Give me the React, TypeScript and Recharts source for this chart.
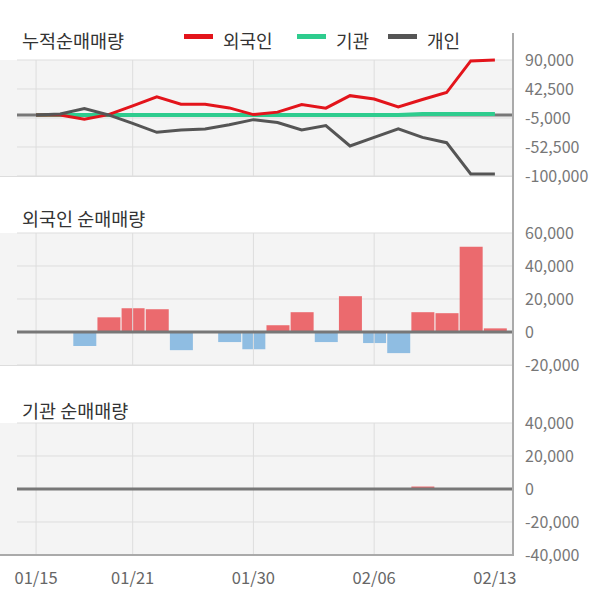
import { Bar, Cell, ComposedChart, CartesianGrid, Line, ReferenceLine, XAxis, YAxis } from "recharts";

const dates = ["01/15", "01/16", "01/17", "01/20", "01/21", "01/22", "01/23", "01/28", "01/29", "01/30",
  "01/31", "02/03", "02/04", "02/05", "02/06", "02/07", "02/10", "02/11", "02/12", "02/13"];

// cumulative net buy (shares)
const foreignCum = [0, 0, -7200, 500, 14800, 29500, 17600, 17600, 11500, 600,
  4600, 17200, 11100, 31600, 26100, 13300, 25300, 36700, 88500, 90000];
const instCum = [0, 0, 0, 0, 0, 0, 0, 0, 0, 0, 0, 0, 0, 0, 0, 0, 1500, 1500, 1500, 1500];
const indivCum = [0, 1600, 10300, 0, -13700, -28400, -24600, -23000, -15900, -7700,
  -12500, -24600, -17500, -50800, -36700, -22900, -36700, -45400, -96600, -96600];

// daily net buy
const foreignNet = [0, 0, -8500, 8900, 14400, 13800, -11000, 0, -6100, -10400,
  4100, 12000, -6100, 21700, -6700, -12800, 12000, 11400, 51600, 2200];
const instNet = [0, 0, 0, 0, 0, 0, 0, 0, 0, 0, 0, 0, 0, 0, 0, 0, 1500, 0, 0, 0];

const cumTicks = [90000, 42500, -5000, -52500, -100000];
const foreignTicks = [60000, 40000, 20000, 0, -20000];
const instTicks = [40000, 20000, 0, -20000, -40000];
const labelIdx = [0, 4, 9, 14, 19];
const gridIdx = [0, 4, 9, 14];

const cumData = dates.map((d, i) => ({ idx: i, date: d, foreign: foreignCum[i], inst: instCum[i], indiv: indivCum[i] }));
const foreignData = dates.map((d, i) => ({ idx: i, date: d, value: foreignNet[i] }));
const instData = dates.map((d, i) => ({ idx: i, date: d, value: instNet[i] }));

const FONT = "'Noto Sans CJK KR', 'Noto Sans', sans-serif";
const X_DOMAIN: [number, number] = [-0.79, 19.75];
const RED = "#e3141b";
const GREEN = "#2ecc8e";
const DARK = "#555555";
const BAR_UP = "#eb6a6e";
const BAR_DOWN = "#8fbde2";
const MARGIN = { top: 15, bottom: 12, left: 17, right: 0 };
const fmt = (v: number) => v.toLocaleString("en-US");

function yAxis(domain: [number, number], ticks: number[]) {
  return (
    <YAxis
      orientation="right"
      type="number"
      domain={domain}
      ticks={ticks}
      interval={0}
      width={87}
      axisLine={false}
      tickLine={false}
      tickSize={0}
      tickMargin={12}
      tickFormatter={fmt}
      tick={{ fill: "#777", fontSize: 16, fontFamily: FONT }}
    />
  );
}

function Panel({ top, height }: { top: number; height: number }) {
  return (
    <div style={{ position: "absolute", left: 0, top, width: 513, height, background: "#f4f4f4", borderBottom: "1px solid #ddd", boxSizing: "border-box" }} />
  );
}

function Title({ top, text }: { top: number; text: string }) {
  return (
    <div style={{ position: "absolute", left: 22, top, fontSize: 18.5, lineHeight: "20px", color: "#333", fontFamily: FONT }}>{text}</div>
  );
}

function LegendItem({ left, color, text }: { left: number; color: string; text: string }) {
  return (
    <>
      <div style={{ position: "absolute", left, top: 34, width: 29, height: 5, background: color }} />
      <div style={{ position: "absolute", left: left + 39, top: 30, fontSize: 18, lineHeight: "20px", color: "#333", fontFamily: FONT }}>{text}</div>
    </>
  );
}

export default function App() {
  return (
    <div style={{ position: "absolute", left: 0, top: 0, width: 600, height: 604, background: "#fff", fontFamily: FONT }}>
      <Panel top={60} height={117} />
      <Panel top={233} height={133} />
      <Panel top={423} height={132} />

      <Title top={30} text="누적순매매량" />
      <LegendItem left={184} color={RED} text="외국인" />
      <LegendItem left={297} color={GREEN} text="기관" />
      <LegendItem left={388} color={DARK} text="개인" />
      <Title top={208} text="외국인 순매매량" />
      <Title top={400} text="기관 순매매량" />

      <div style={{ position: "absolute", left: 0, top: 45 }}>
        <ComposedChart width={600} height={143} data={cumData} margin={MARGIN}>
          <CartesianGrid vertical={false} stroke="#ddd" />
          <XAxis type="number" dataKey="idx" domain={X_DOMAIN} hide />
          {yAxis([-100000, 90000], cumTicks)}
          {gridIdx.map((i) => (
            <ReferenceLine key={i} x={i} stroke="#ddd" />
          ))}
          <ReferenceLine y={0} stroke="#777" strokeWidth={3} />
          <Line dataKey="inst" stroke={GREEN} strokeWidth={4} dot={false} isAnimationActive={false} />
          <Line dataKey="foreign" stroke={RED} strokeWidth={3} dot={false} isAnimationActive={false} />
          <Line dataKey="indiv" stroke={DARK} strokeWidth={3} dot={false} isAnimationActive={false} />
        </ComposedChart>
      </div>

      <div style={{ position: "absolute", left: 0, top: 218 }}>
        <ComposedChart width={600} height={159} data={foreignData} margin={MARGIN}>
          <CartesianGrid vertical={false} stroke="#ddd" />
          <XAxis type="number" dataKey="idx" domain={X_DOMAIN} hide />
          {yAxis([-20000, 60000], foreignTicks)}
          {gridIdx.map((i) => (
            <ReferenceLine key={i} x={i} stroke="#ddd" />
          ))}
          <Bar dataKey="value" barSize={23} isAnimationActive={false}>
            {foreignData.map((d) => (
              <Cell key={d.idx} fill={d.value >= 0 ? BAR_UP : BAR_DOWN} />
            ))}
          </Bar>
          <ReferenceLine y={0} stroke="#777" strokeWidth={3} />
        </ComposedChart>
      </div>

      <div style={{ position: "absolute", left: 0, top: 408 }}>
        <ComposedChart width={600} height={187} data={instData} margin={{ ...MARGIN, bottom: 5 }}>
          <CartesianGrid vertical={false} stroke="#ddd" />
          <XAxis
            type="number"
            dataKey="idx"
            domain={X_DOMAIN}
            ticks={labelIdx}
            interval={0}
            height={35}
            axisLine={false}
            tickLine={false}
            tickSize={0}
            tickMargin={17}
            tickFormatter={(i: number) => dates[i]}
            tick={{ fill: "#666", fontSize: 16.5, fontFamily: FONT }}
          />
          {yAxis([-40000, 40000], instTicks)}
          {gridIdx.map((i) => (
            <ReferenceLine key={i} x={i} stroke="#ddd" />
          ))}
          <Bar dataKey="value" barSize={23} isAnimationActive={false}>
            {instData.map((d) => (
              <Cell key={d.idx} fill={d.value >= 0 ? BAR_UP : BAR_DOWN} />
            ))}
          </Bar>
          <ReferenceLine y={0} stroke="#777" strokeWidth={3} />
        </ComposedChart>
      </div>

      <div style={{ position: "absolute", left: 0, top: 554, width: 514, height: 2, background: "#aaa" }} />
      <div style={{ position: "absolute", left: 512, top: 33, width: 2, height: 523, background: "#aaa" }} />
    </div>
  );
}
